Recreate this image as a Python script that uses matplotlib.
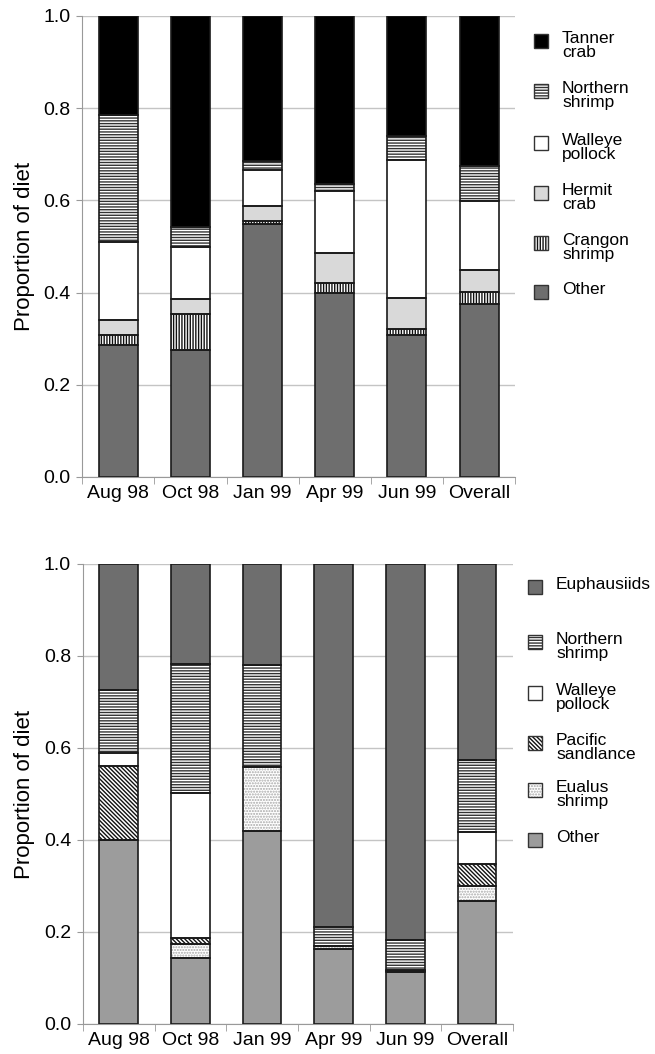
import numpy as np
import matplotlib
matplotlib.use("Agg")
from matplotlib import pyplot as plt
from matplotlib.patches import Rectangle

plt.rcParams['font.family'] = ['Liberation Sans', 'DejaVu Sans']
plt.rcParams['hatch.linewidth'] = 1.0

months = ["Aug 98", "Oct 98", "Jan 99", "Apr 99", "Jun 99", "Overall"]

# upper panel, proportions stacked bottom -> top
top_names = ["Other", "Crangon\nshrimp", "Hermit\ncrab", "Walleye\npollock", "Northern\nshrimp", "Tanner\ncrab"]
top_other    = [0.286, 0.275, 0.549, 0.399, 0.308, 0.375]
top_crangon  = [0.021, 0.078, 0.006, 0.021, 0.012, 0.026]
top_hermit   = [0.033, 0.033, 0.033, 0.066, 0.069, 0.048]
top_walleye  = [0.170, 0.113, 0.077, 0.135, 0.298, 0.149]
top_northern = [0.275, 0.044, 0.020, 0.014, 0.053, 0.077]
top_tanner   = [0.215, 0.457, 0.315, 0.365, 0.260, 0.325]

# lower panel
bot_names = ["Other", "Eualus\nshrimp", "Pacific\nsandlance", "Walleye\npollock", "Northern\nshrimp", "Euphausiids"]
bot_other     = [0.400, 0.143, 0.420, 0.163, 0.112, 0.268]
bot_eualus    = [0.000, 0.031, 0.138, 0.006, 0.000, 0.032]
bot_sandlance = [0.160, 0.012, 0.000, 0.000, 0.003, 0.048]
bot_walleye   = [0.029, 0.317, 0.000, 0.000, 0.003, 0.069]
bot_northern  = [0.137, 0.280, 0.223, 0.042, 0.065, 0.157]
bot_euph      = [0.274, 0.217, 0.219, 0.789, 0.817, 0.426]

# (face, hatch, hatch colour)
top_styles = [("#6e6e6e", "", "#222222"),
              ("white", "||||||", "#111111"),
              ("#d9d9d9", "", "#222222"),
              ("white", "", "#222222"),
              ("white", "------", "#333333"),
              ("black", "", "#111111")]
bot_styles = [("#9c9c9c", "", "#222222"),
              ("white", "......", "#a8a8a8"),
              ("white", "\\" * 8, "#111111"),
              ("white", "", "#222222"),
              ("white", "------", "#333333"),
              ("#6e6e6e", "", "#222222")]

fig = plt.figure(figsize=(6.55, 10.54), dpi=100)
ax1 = fig.add_axes([0.1255, 0.5475, 0.661, 0.4374])
ax2 = fig.add_axes([0.1265, 0.0285, 0.6565, 0.4364])


def stacked(ax, series, styles):
    x = np.arange(len(months))
    bottom = np.zeros(len(months))
    for vals, (fc, h, hc) in zip(series, styles):
        vals = np.array(vals)
        ax.bar(x, vals, 0.54, bottom=bottom, color=fc, hatch=h,
               edgecolor=hc, linewidth=0, zorder=3)
        ax.bar(x, vals, 0.54, bottom=bottom, fill=False,
               edgecolor="#1a1a1a", linewidth=1.2, zorder=4)
        bottom += vals
    ax.set_xlim(-0.5, len(months) - 0.5)
    ax.set_ylim(0, 1.0)
    ax.set_yticks(np.arange(0, 1.01, 0.2))
    ax.set_yticklabels(["%.1f" % v for v in np.arange(0, 1.01, 0.2)])
    ax.set_xticks(x)
    ax.set_xticklabels(months)
    ax.set_xticks(np.arange(-0.5, len(months), 1.0), minor=True)
    ax.tick_params(axis="x", which="major", length=0, labelsize=14, pad=6)
    ax.tick_params(axis="x", which="minor", length=5, color="#999999")
    ax.tick_params(axis="y", length=4.5, color="#999999", labelsize=14, pad=4)
    ax.grid(axis="y", color="#c4c4c4", linewidth=1.0, zorder=0)
    for s in ["top", "right"]:
        ax.spines[s].set_visible(False)
    for s in ["left", "bottom"]:
        ax.spines[s].set_color("#999999")
    ax.set_ylabel("Proportion of diet", fontsize=16, labelpad=6)


def legend(names, styles, x0, ys):
    W, H = 655.0, 1054.0
    for name, (fc, h, hc), y in zip(names, styles, ys):
        sq = 14
        fig.add_artist(Rectangle(((x0) / W, (H - y - sq / 2) / H), sq / W, sq / H,
                                 transform=fig.transFigure, facecolor=fc, hatch=h,
                                 edgecolor=hc, linewidth=0))
        fig.add_artist(Rectangle(((x0) / W, (H - y - sq / 2) / H), sq / W, sq / H,
                                 transform=fig.transFigure, fill=False,
                                 edgecolor="#333333", linewidth=1.0))
        fig.text((x0 + 28) / W, (H - y + 10) / H, name, fontsize=12.5,
                 va="top", ha="left", linespacing=0.95)


stacked(ax1, [top_other, top_crangon, top_hermit, top_walleye, top_northern, top_tanner], top_styles)
stacked(ax2, [bot_other, bot_eualus, bot_sandlance, bot_walleye, bot_northern, bot_euph], bot_styles)

legend(top_names[::-1], top_styles[::-1], 534, [41, 91, 143, 193, 243, 292])
legend(bot_names[::-1], bot_styles[::-1], 528, [587, 642, 693, 743, 790, 840])

fig.savefig("out.png", dpi=100)
